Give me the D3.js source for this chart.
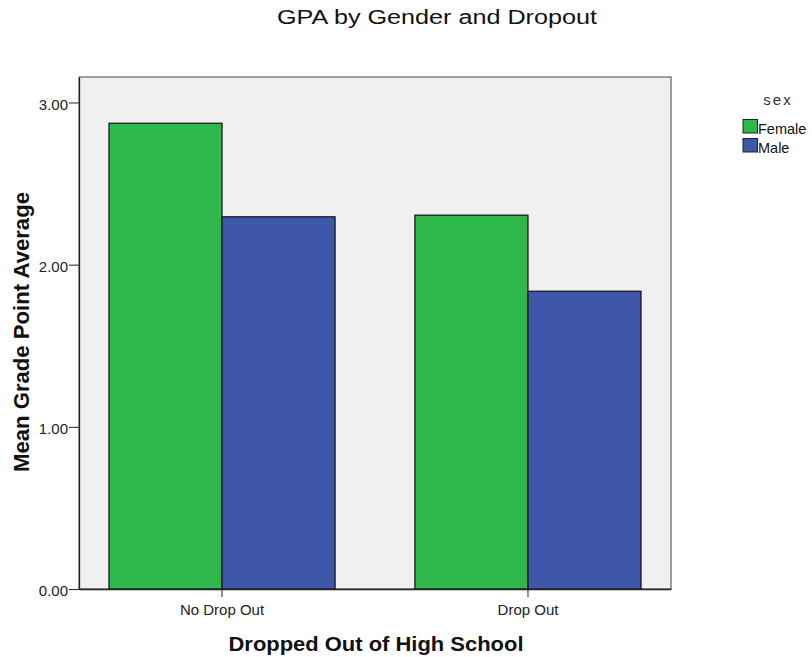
<!DOCTYPE html>
<html>
<head>
<meta charset="utf-8">
<script src="https://cdn.jsdelivr.net/npm/d3@7"></script>
<style>
  body { margin: 0; background: #fff; }
  text { font-family: "Liberation Sans", Arial, sans-serif; }
</style>
</head>
<body>
<div id="chart"></div>
<script>
// data
var categories = ["No Drop Out", "Drop Out"];
var sexes = ["Female", "Male"];
var femaleGPA = [2.872, 2.305];
var maleGPA = [2.295, 1.836];
var yTicks = [0, 1, 2, 3];

var colors = { Female: "#2eb84b", Male: "#3f57a9" };

var W = 812, H = 657;
var plot = { left: 79, top: 77, right: 671, bottom: 589 };

var svg = d3.select("#chart").append("svg")
    .attr("width", W)
    .attr("height", H);

var x0 = d3.scaleBand()
    .domain(categories)
    .range([plot.left, plot.right])
    .paddingInner(0.261)
    .paddingOuter(0.098);

var x1 = d3.scaleBand()
    .domain(sexes)
    .range([0, x0.bandwidth()]);

var y = d3.scaleLinear()
    .domain([0, 3.157])
    .range([plot.bottom, plot.top]);

// plot background
svg.append("rect")
    .attr("x", plot.left)
    .attr("y", plot.top)
    .attr("width", plot.right - plot.left)
    .attr("height", plot.bottom - plot.top)
    .attr("fill", "#f0f0f0")
    .attr("stroke", "#444")
    .attr("stroke-width", 1);

var rows = categories.map(function (c, i) {
    return [{ cat: c, sex: "Female", v: femaleGPA[i] }, { cat: c, sex: "Male", v: maleGPA[i] }];
});

var groups = svg.selectAll(".grp")
    .data(rows)
    .enter().append("g")
    .attr("class", "grp")
    .attr("transform", function (d, i) { return "translate(" + x0(categories[i]) + ",0)"; });

groups.selectAll("rect")
    .data(function (d) { return d; })
    .enter().append("rect")
    .attr("x", function (d) { return x1(d.sex); })
    .attr("y", function (d) { return y(d.v); })
    .attr("width", x1.bandwidth())
    .attr("height", function (d) { return y(0) - y(d.v); })
    .attr("fill", function (d) { return colors[d.sex]; })
    .attr("stroke", "#111")
    .attr("stroke-width", 1.2);

// y axis
var yAxis = d3.axisLeft(y)
    .tickValues(yTicks)
    .tickFormat(d3.format(".2f"))
    .tickSize(10)
    .tickSizeOuter(0);

var ya = svg.append("g")
    .attr("transform", "translate(" + plot.left + ",0)")
    .call(yAxis);
ya.select(".domain").attr("stroke", "#222").attr("stroke-width", 1.3);
ya.selectAll(".tick line").attr("stroke", "#222");
ya.selectAll(".tick text")
    .attr("font-size", 15)
    .attr("fill", "#222")
    .attr("x", -11)
    .attr("dy", "0.45em")
    .style("font-family", "Liberation Sans, Arial, sans-serif");

// x axis
var xAxis = d3.axisBottom(x0).tickSize(8).tickSizeOuter(0);
var xa = svg.append("g")
    .attr("transform", "translate(0," + plot.bottom + ")")
    .call(xAxis);
xa.select(".domain").attr("stroke", "#222").attr("stroke-width", 1.3);
xa.selectAll(".tick line").attr("stroke", "#222");
xa.selectAll(".tick text")
    .attr("font-size", 15)
    .attr("fill", "#222")
    .attr("y", 15)
    .style("font-family", "Liberation Sans, Arial, sans-serif");

// titles
svg.append("text")
    .attr("x", 437)
    .attr("y", 24)
    .attr("text-anchor", "middle")
    .attr("font-size", 20)
    .attr("textLength", 320)
    .attr("lengthAdjust", "spacingAndGlyphs")
    .attr("fill", "#111")
    .text("GPA by Gender and Dropout");

svg.append("text")
    .attr("x", 376)
    .attr("y", 651)
    .attr("text-anchor", "middle")
    .attr("font-size", 21)
    .attr("font-weight", "bold")
    .attr("textLength", 295)
    .attr("lengthAdjust", "spacingAndGlyphs")
    .attr("fill", "#111")
    .text("Dropped Out of High School");

svg.append("text")
    .attr("transform", "translate(29,332) rotate(-90)")
    .attr("text-anchor", "middle")
    .attr("font-size", 22)
    .attr("font-weight", "bold")
    .attr("textLength", 280)
    .attr("lengthAdjust", "spacingAndGlyphs")
    .attr("fill", "#111")
    .text("Mean Grade Point Average");

// legend
var legend = svg.append("g").attr("transform", "translate(743,0)");
legend.append("text")
    .attr("x", 35)
    .attr("y", 105)
    .attr("text-anchor", "middle")
    .attr("font-size", 15)
    .attr("letter-spacing", 2)
    .attr("fill", "#333")
    .text("sex");

var li = legend.selectAll(".li")
    .data(sexes)
    .enter().append("g")
    .attr("class", "li")
    .attr("transform", function (d, i) { return "translate(0," + (119.5 + i * 19) + ")"; });
li.append("rect")
    .attr("width", 14.5)
    .attr("height", 13.5)
    .attr("fill", function (d) { return colors[d]; })
    .attr("stroke", "#222")
    .attr("stroke-width", 1);
li.append("text")
    .attr("x", 15)
    .attr("y", 14)
    .attr("font-size", 14.5)
    .attr("fill", "#111")
    .text(function (d) { return d; });
</script>
</body>
</html>
